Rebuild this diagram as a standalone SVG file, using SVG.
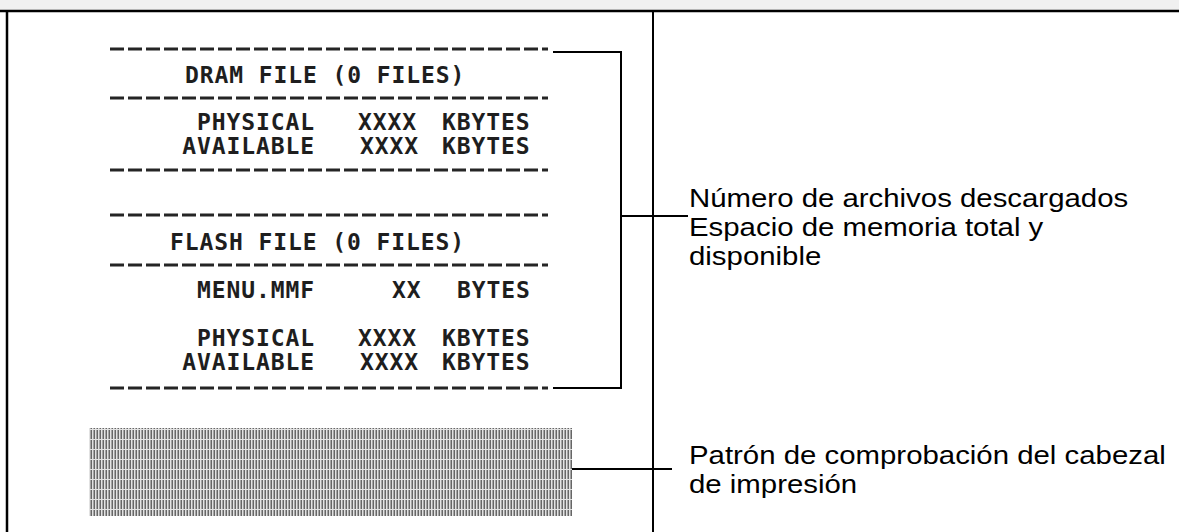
<svg xmlns="http://www.w3.org/2000/svg" width="1179" height="532" viewBox="0 0 1179 532">
<style>
.pr{font-family:"DejaVu Sans Mono","Liberation Mono",monospace;font-weight:bold;font-size:23px;fill:#1e1e1e;letter-spacing:0.9px}
.e{text-anchor:end}
.dash{stroke:#252525;stroke-width:3;stroke-dasharray:14 4;fill:none}
.lbl{font-family:"Liberation Sans",Arial,sans-serif;font-size:26px;fill:#000}
.ln{stroke:#000;stroke-width:2;fill:none}
</style>
<defs>
<pattern id="head" width="3" height="10" patternUnits="userSpaceOnUse">
<rect width="3" height="10" fill="#e2e2e2"/>
<rect x="0.5" y="0" width="1.5" height="9" fill="#666"/>
</pattern>
</defs>
<rect x="0" y="0" width="1179" height="11" fill="#f0f0f0"/>
<g id="frame">
<line x1="0" y1="11" x2="1179" y2="11" stroke="#000" stroke-width="2.5"/>
<line x1="7" y1="11" x2="7" y2="532" stroke="#000" stroke-width="2.5"/>
<line x1="653" y1="11" x2="653" y2="532" stroke="#000" stroke-width="2"/>
</g>
<g id="printout">
<line class="dash" x1="110" y1="49" x2="548" y2="49"/>
<text class="pr" x="185" y="83">DRAM FILE (0 FILES)</text>
<line class="dash" x1="110" y1="98" x2="548" y2="98"/>
<text class="pr e" x="315" y="130">PHYSICAL</text>
<text class="pr" x="358" y="130">XXXX</text>
<text class="pr" x="442" y="130">KBYTES</text>
<text class="pr e" x="315" y="154">AVAILABLE</text>
<text class="pr" x="360" y="154">XXXX</text>
<text class="pr" x="442" y="154">KBYTES</text>
<line class="dash" x1="110" y1="170" x2="548" y2="170"/>
<line class="dash" x1="110" y1="215" x2="548" y2="215"/>
<text class="pr" x="170" y="250">FLASH FILE (0 FILES)</text>
<line class="dash" x1="110" y1="265" x2="548" y2="265"/>
<text class="pr e" x="315" y="298">MENU.MMF</text>
<text class="pr" x="392" y="298">XX</text>
<text class="pr" x="457" y="298">BYTES</text>
<text class="pr e" x="315" y="346">PHYSICAL</text>
<text class="pr" x="358" y="346">XXXX</text>
<text class="pr" x="442" y="346">KBYTES</text>
<text class="pr e" x="315" y="370">AVAILABLE</text>
<text class="pr" x="360" y="370">XXXX</text>
<text class="pr" x="442" y="370">KBYTES</text>
<line class="dash" x1="110" y1="388" x2="548" y2="388"/>
</g>
<g id="headpattern">
<rect x="89" y="428" width="483" height="88" fill="url(#head)"/>
</g>
<g id="connectors">
<polyline class="ln" points="553,52 621,52 621,388 553,388"/>
<line class="ln" x1="621" y1="216" x2="688" y2="216"/>
<line class="ln" x1="572" y1="469" x2="672" y2="469"/>
</g>
<g id="label1">
<text class="lbl" transform="translate(689 0) scale(1.13 1)"><tspan x="0" y="207">Número de archivos descargados</tspan><tspan x="0" y="236">Espacio de memoria total y</tspan><tspan x="0" y="265">disponible</tspan></text>
</g>
<g id="label2">
<text class="lbl" transform="translate(689 0) scale(1.13 1)"><tspan x="0" y="464">Patrón de comprobación del cabezal</tspan><tspan x="0" y="493">de impresión</tspan></text>
</g>
</svg>
